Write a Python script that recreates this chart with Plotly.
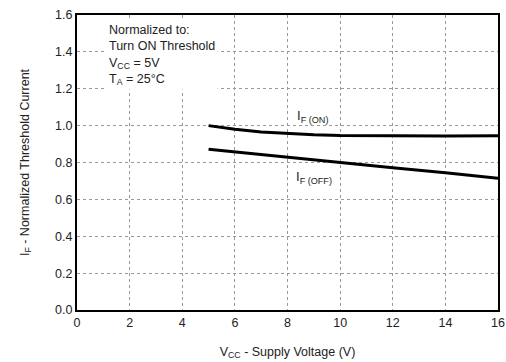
import plotly.graph_objects as go

vcc_on = [5, 6, 7, 8, 9, 10, 12, 14, 16]
if_on = [1.0, 0.98, 0.966, 0.956, 0.95, 0.946, 0.944, 0.944, 0.945]
vcc_off = [5, 8, 10, 12, 14, 16]
if_off = [0.872, 0.828, 0.798, 0.772, 0.744, 0.715]
x_ticks = [0, 2, 4, 6, 8, 10, 12, 14, 16]
y_ticks = [0.0, 0.2, 0.4, 0.6, 0.8, 1.0, 1.2, 1.4, 1.6]

FONT = "Liberation Sans, Arial, sans-serif"
fig = go.Figure()
fig.add_trace(go.Scatter(x=vcc_on, y=if_on, mode="lines", line=dict(color="black", width=3),
                         showlegend=False, hoverinfo="skip"))
fig.add_trace(go.Scatter(x=vcc_off, y=if_off, mode="lines", line=dict(color="black", width=3),
                         showlegend=False, hoverinfo="skip"))

fig.add_annotation(x=8.3, y=1.05, text="I<sub>F (ON)</sub>", showarrow=False,
                   xanchor="left", yanchor="middle", font=dict(size=13, color="#222", family=FONT))
fig.add_annotation(x=8.25, y=0.72, text="I<sub>F (OFF)</sub>", showarrow=False,
                   xanchor="left", yanchor="middle", font=dict(size=13, color="#222", family=FONT))
fig.add_annotation(x=1.1, y=1.575,
                   text="Normalized to:<br>Turn ON Threshold<br>V<sub>CC</sub> = 5V<br>T<sub>A</sub> = 25°C",
                   showarrow=False, xanchor="left", yanchor="top", align="left",
                   bgcolor="white", borderpad=2,
                   font=dict(size=12.5, color="#222", family=FONT))

axis_common = dict(showgrid=True, gridcolor="#999", griddash="dot", gridwidth=1,
                   showline=True, linecolor="black", linewidth=2, mirror=True,
                   ticks="", zeroline=False, automargin=False,
                   tickfont=dict(size=12.5, color="#222", family=FONT))
fig.update_xaxes(range=[0, 16], tickvals=x_ticks, ticktext=[str(v) for v in x_ticks],
                 title=dict(text="V<sub>CC</sub> - Supply Voltage (V)", standoff=18,
                            font=dict(size=12.5, color="#222", family=FONT)),
                 **axis_common)
fig.update_yaxes(range=[0, 1.6], tickvals=y_ticks, ticktext=[f"{v:.1f}" for v in y_ticks],
                 title=dict(text="I<sub>F</sub> - Normalized Threshold Current", standoff=23,
                            font=dict(size=12.5, color="#222", family=FONT)),
                 **axis_common)
fig.update_layout(width=506, height=362, margin=dict(l=77, r=8, t=15, b=52),
                  plot_bgcolor="white", paper_bgcolor="white")
fig.write_html("out.html", config={"displayModeBar": False},
               post_script="document.body.style.margin='0';")
